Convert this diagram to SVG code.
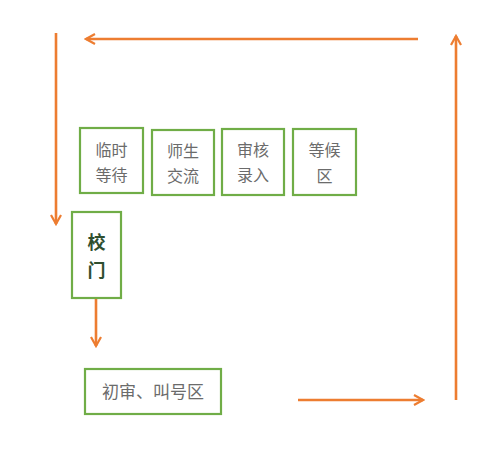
<svg xmlns="http://www.w3.org/2000/svg" width="490" height="465" viewBox="0 0 490 465">
<defs>
<marker id="ah" viewBox="0 0 12 12" refX="10" refY="6" markerWidth="12" markerHeight="12" markerUnits="userSpaceOnUse" orient="auto">
<path d="M1,1 L10,6 L1,11" fill="none" stroke="#ED7D31" stroke-width="2.2"/>
</marker>
<style>
.box{fill:#fff;stroke:#70AD47;stroke-width:2.2}
.t{font-family:"Noto Sans CJK SC","Noto Sans",sans-serif;font-size:16px;fill:#6b6b6b;text-anchor:middle}
.tb{font-family:"Noto Sans CJK SC","Noto Sans",sans-serif;font-size:18px;font-weight:bold;fill:#2f4f2f;text-anchor:middle}
.c{fill:none;stroke:#ED7D31;stroke-width:2.6;marker-end:url(#ah)}
</style>
</defs>
<g id="connectors">
<path class="c" d="M418,39 L86,39"/>
<path class="c" d="M56,33 L56,224"/>
<path class="c" d="M456,400 L456,36"/>
<path class="c" d="M298,400 L423,400"/>
<path class="c" d="M96,299 L96,346"/>
</g>
<g id="n1"><rect class="box" x="80" y="128" width="63" height="65"/><text class="t" x="111.5" y="156">临时</text><text class="t" x="111.5" y="181">等待</text></g>
<g id="n2"><rect class="box" x="152" y="130" width="62" height="65"/><text class="t" x="183" y="157">师生</text><text class="t" x="183" y="182">交流</text></g>
<g id="n3"><rect class="box" x="222" y="129" width="62" height="66"/><text class="t" x="253" y="156">审核</text><text class="t" x="253" y="181">录入</text></g>
<g id="n4"><rect class="box" x="293" y="129" width="63" height="66"/><text class="t" x="324.5" y="156">等候</text><text class="t" x="324.5" y="182">区</text></g>
<g id="gate"><rect class="box" x="72" y="212" width="49" height="86"/><text class="tb" x="96.5" y="249">校</text><text class="tb" x="96.5" y="277">门</text></g>
<g id="n5"><rect class="box" x="85" y="369" width="136" height="45"/><text class="t" x="153" y="398" style="font-size:17px">初审、叫号区</text></g>
</svg>
